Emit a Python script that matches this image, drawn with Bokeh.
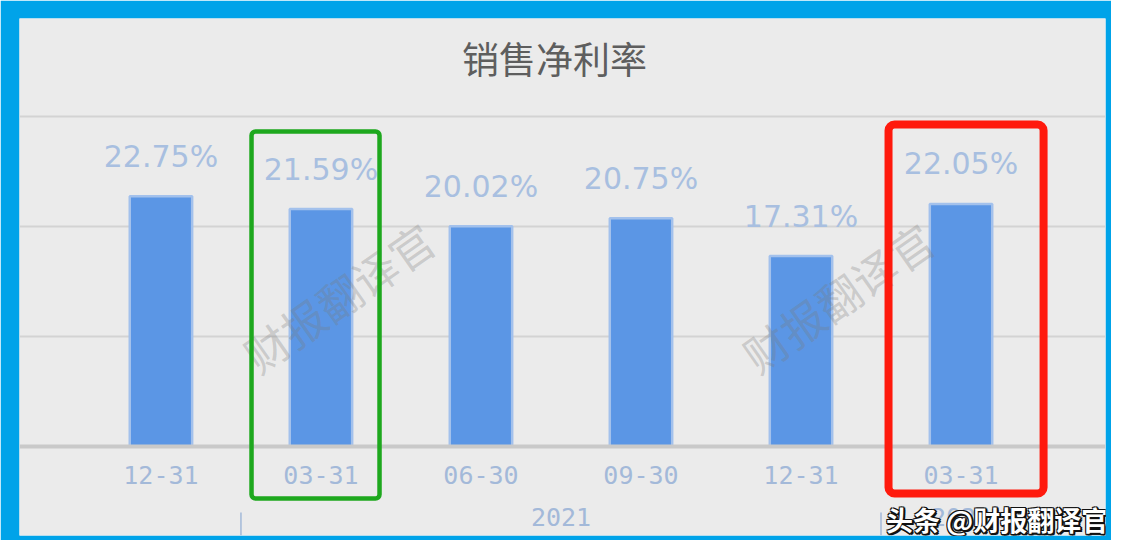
import math
from bokeh.plotting import figure
from bokeh.models import Span, BoxAnnotation, Label, Range1d
from bokeh.core.properties import value
from bokeh.embed import file_html
from bokeh.resources import INLINE

# ---- data ----
title_text = "销售净利率"
periods = ["12-31", "03-31", "06-30", "09-30", "12-31", "03-31"]
net_margin = [22.75, 21.59, 20.02, 20.75, 17.31, 22.05]
year_labels = ["2021", "2022"]
year_first_idx = [1, 5]
year_last_idx = [4, 5]
group_breaks = [0.5, 4.5]
grid_ticks = [10, 20, 30]
watermark = "财报翻译官"
credit = "头条 @财报翻译官"

idx = list(range(len(periods)))
labels = [f"{v:.2f}%" for v in net_margin]

p = figure(width=1111, height=540,
           x_range=Range1d(-0.884, 5.903), y_range=Range1d(-8.09, 38.91),
           output_backend="svg", toolbar_location=None,
           x_axis_location=None, y_axis_location=None,
           min_border_left=19, min_border_right=6,
           min_border_top=18, min_border_bottom=5)
p.grid.visible = False
p.outline_line_color = None
p.border_fill_color = "#00A3E9"
p.background_fill_color = "#EBEBEB"

for t in grid_ticks:
    p.add_layout(Span(location=t, dimension="width", line_color="#D3D3D3",
                      line_width=2, level="underlay"))

p.vbar(x=idx, top=net_margin, bottom=0, width=0.39,
       fill_color="#5B96E5", line_color="#A3C1EC", line_width=2.5)

p.add_layout(Span(location=0, dimension="width", line_color="#C9C9C9", line_width=4))

# value labels
p.text(x=idx, y=net_margin, text=labels, y_offset=-40,
       text_align="center", text_baseline="middle",
       text_font=value("DejaVu Sans"), text_font_size="30px", text_color="#A8BFE0")

# category labels
p.text(x=idx, y=[0] * len(idx), text=periods, y_offset=28,
       text_align="center", text_baseline="middle",
       text_font=value("DejaVu Sans Mono"), text_font_size="25px", text_color="#A3B9D9")

# year group labels
year_x = [(a + b) / 2 for a, b in zip(year_first_idx, year_last_idx)]
p.text(x=year_x, y=[0] * len(year_x), text=year_labels, y_offset=70,
       text_align="center", text_baseline="middle",
       text_font=value("DejaVu Sans Mono"), text_font_size="25px", text_color="#A3B9D9")
p.segment(x0=group_breaks, x1=group_breaks, y0=[-6.0] * len(group_breaks),
          y1=[-8.09] * len(group_breaks), line_color="#A3B9D9", line_width=1.5)

# title
p.text(x=[2.46], y=[35.3], text=[title_text], text_align="center", text_baseline="middle",
       text_font=value("Noto Sans CJK SC"), text_font_size="37px", text_color="#5E5E5E")

# watermarks
p.text(x=[1.11, 4.23], y=[13.6, 13.6], text=[watermark, watermark],
       angle=math.radians(35), text_align="center", text_baseline="middle",
       text_font=value("Noto Sans CJK SC"), text_font_size="44px",
       text_color="#7A7A7A", text_alpha=0.3)

# highlight boxes
p.add_layout(BoxAnnotation(left=0.566, right=1.366, top=28.64, bottom=-4.73,
                           fill_alpha=0, line_color="#1EA81E", line_alpha=1, line_width=4.5,
                           border_radius=4, level="overlay"))
p.add_layout(BoxAnnotation(left=4.547, right=5.516, top=29.27, bottom=-4.27,
                           fill_alpha=0, line_color="#FF1A0D", line_alpha=1, line_width=8,
                           border_radius=6, level="overlay"))

# credit overlay (dark outline + white text)
for dx, dy in [(2, -2), (1, -1), (-1, 1), (1, 1), (-1, -1), (2, 0), (0, -2)]:
    p.add_layout(Label(x=5.92, y=-6.6, text=credit, x_offset=dx, y_offset=dy,
                       text_align="right", text_baseline="middle",
                       text_font="Noto Sans CJK SC", text_font_style="bold",
                       text_font_size="27px", text_color="#111111"))
p.add_layout(Label(x=5.92, y=-6.6, text=credit,
                   text_align="right", text_baseline="middle",
                   text_font="Noto Sans CJK SC", text_font_style="bold",
                   text_font_size="27px", text_color="white"))

open("out.html", "w").write(file_html(p, INLINE))
